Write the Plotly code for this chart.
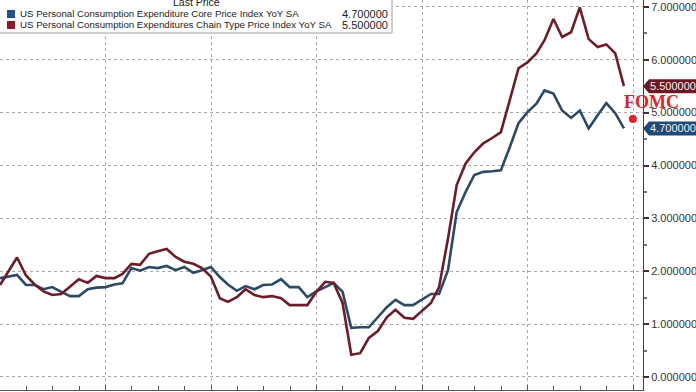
import pandas as pd
import plotly.graph_objects as go

# ---- data (monthly, Dec 2016 .. Nov 2022) ----
start_month = "2016-12-31"
n_months = 72
core_pce = [
    1.87, 1.90, 1.93, 1.74, 1.74, 1.66, 1.70, 1.61, 1.53, 1.53, 1.66, 1.69,
    1.70, 1.75, 1.77, 2.06, 2.01, 2.08, 2.06, 2.10, 2.02, 2.08, 1.97, 2.02,
    2.08, 1.89, 1.75, 1.63, 1.72, 1.66, 1.74, 1.75, 1.85, 1.70, 1.70, 1.51,
    1.62, 1.70, 1.78, 1.61, 0.93, 0.94, 0.94, 1.13, 1.32, 1.46, 1.36, 1.36,
    1.47, 1.57, 1.57, 2.02, 3.12, 3.50, 3.82, 3.88, 3.89, 3.91, 4.35, 4.80,
    5.01, 5.17, 5.42, 5.36, 5.04, 4.90, 5.04, 4.70, 4.95, 5.18, 4.99, 4.70,
]
headline_pce = [
    1.74, 2.00, 2.26, 1.92, 1.75, 1.62, 1.55, 1.57, 1.72, 1.85, 1.78, 1.91,
    1.87, 1.87, 1.95, 2.14, 2.12, 2.33, 2.38, 2.42, 2.27, 2.18, 2.14, 2.06,
    1.90, 1.49, 1.42, 1.51, 1.66, 1.55, 1.51, 1.53, 1.49, 1.36, 1.36, 1.36,
    1.61, 1.80, 1.78, 1.40, 0.42, 0.45, 0.74, 0.87, 1.13, 1.27, 1.12, 1.10,
    1.25, 1.40, 1.70, 2.62, 3.63, 4.04, 4.25, 4.42, 4.52, 4.63, 5.24, 5.84,
    5.95, 6.12, 6.37, 6.77, 6.43, 6.52, 6.99, 6.39, 6.24, 6.29, 6.12, 5.50,
]
core_name = "US Personal Consumption Expenditure Core Price Index YoY SA"
headline_name = "US Personal Consumption Expenditures Chain Type Price Index YoY SA"
y_ticks = [0, 1, 2, 3, 4, 5, 6, 7]
fomc_date = "2022-12-31"
fomc_value = 4.88

dates = pd.date_range(start_month, periods=n_months, freq="ME")

# ---- styles ----
RED_LINE = "#6e1c2a"
BLUE_LINE = "#2c4a66"
RED_TAG = "#6b1822"
BLUE_TAG = "#1f4a78"
RED_SQ = "#8e1a2c"
BLUE_SQ = "#22508c"
FOMC_RED = "#e3202c"
FONT = "Liberation Sans"

fig = go.Figure()
fig.add_trace(go.Scatter(x=dates, y=core_pce, mode="lines", name=core_name,
                         line=dict(color=BLUE_LINE, width=2.6), cliponaxis=False))
fig.add_trace(go.Scatter(x=dates, y=headline_pce, mode="lines", name=headline_name,
                         line=dict(color=RED_LINE, width=2.6), cliponaxis=False))
fig.add_trace(go.Scatter(x=[fomc_date], y=[fomc_value], mode="markers",
                         marker=dict(color=FOMC_RED, size=8), cliponaxis=False,
                         showlegend=False))

fig.update_layout(
    width=696, height=392,
    margin=dict(l=0, r=53, t=0, b=2, autoexpand=False),
    paper_bgcolor="white", plot_bgcolor="white",
    showlegend=False,
    font=dict(family=FONT, size=11, color="#333333"),
    xaxis=dict(
        type="date", range=["2016-12-31", "2023-02-04"],
        showticklabels=False,
        tick0="2017-01-01", dtick="M12",
        showgrid=True, gridcolor="#a8a8a8", griddash="dot", gridwidth=1,
        ticks="inside", ticklen=5, tickcolor="#555555",
        minor=dict(dtick="M3", ticks="inside", ticklen=4, tickcolor="#555555", showgrid=False),
        showline=True, linecolor="#555555", linewidth=1,
        zeroline=False,
    ),
    yaxis=dict(
        side="right", range=[-0.246, 7.13],
        tickvals=y_ticks, tickformat=".6f",
        showgrid=True, gridcolor="#a8a8a8", griddash="dot", gridwidth=1,
        ticks="outside", ticklen=5, tickwidth=2, tickcolor="#4a2e30",
        minor=dict(dtick=0.5, ticks="outside", ticklen=3, tickcolor="#777777", showgrid=False),
        showline=True, linecolor="#4a3a3a", linewidth=1,
        zeroline=False,
        tickfont=dict(family=FONT, size=11, color="#333333"),
    ),
)

# ---- Bloomberg-style legend box ----
PW, PH = 643.0, 390.0
def px(x):
    return x / PW
def py(y):
    return 1 - y / PH

NAME_SIZE = 9.7
VAL_SIZE = 11
fig.add_shape(type="rect", xref="paper", yref="paper",
              x0=px(-2), x1=px(392), y0=py(33), y1=py(-5),
              fillcolor="white", line=dict(color="#9a9a9a", width=1), layer="above")
fig.add_annotation(xref="paper", yref="paper", x=px(196), y=py(2), text="Last Price",
                   showarrow=False, xanchor="center", yanchor="middle",
                   font=dict(family=FONT, size=10.5, color="#222222"))
rows = [(core_name, core_pce[-1], BLUE_SQ, 14), (headline_name, headline_pce[-1], RED_SQ, 25)]
for name, val, col, yy in rows:
    fig.add_shape(type="rect", xref="paper", yref="paper",
                  x0=px(7), x1=px(15), y0=py(yy + 4), y1=py(yy - 4),
                  fillcolor=col, line=dict(width=0), layer="above")
    fig.add_annotation(xref="paper", yref="paper", x=px(18), y=py(yy), text=name,
                       showarrow=False, xanchor="left", yanchor="middle",
                       font=dict(family=FONT, size=NAME_SIZE, color="#222222"))
    fig.add_annotation(xref="paper", yref="paper", x=px(390), y=py(yy), text=f"{val:.6f}",
                       showarrow=False, xanchor="right", yanchor="middle",
                       font=dict(family=FONT, size=VAL_SIZE, color="#222222"))

# ---- last value tags ----
for val, col in [(headline_pce[-1], RED_TAG), (core_pce[-1], BLUE_TAG)]:
    fig.add_shape(type="path", xref="paper", yref="y",
                  xsizemode="pixel", ysizemode="pixel", xanchor=1, yanchor=val,
                  path="M0,0 L6,7 L53,7 L53,-7 L6,-7 Z",
                  fillcolor=col, line=dict(width=0), layer="above")
    fig.add_annotation(xref="paper", yref="y", x=1, y=val, xshift=5,
                       text=f"{val:.6f}", showarrow=False,
                       xanchor="left", yanchor="middle",
                       font=dict(family=FONT, size=11, color="#f2f2f2"))

# ---- FOMC label ----
fig.add_annotation(xref="paper", yref="paper", x=px(651), y=py(102), text="<b>FOMC</b>",
                   showarrow=False, xanchor="center", yanchor="middle",
                   font=dict(family="Liberation Serif", size=18, color=FOMC_RED))

fig.write_html("out.html", config={"displayModeBar": False},
               post_script="document.body.style.margin='0';")
